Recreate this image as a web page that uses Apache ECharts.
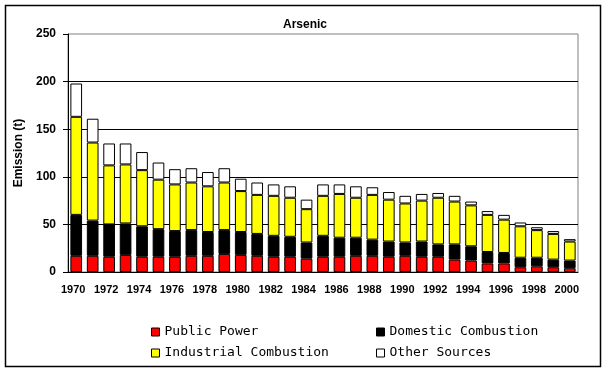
<!DOCTYPE html>
<html><head><meta charset="utf-8">
<script src="https://cdn.jsdelivr.net/npm/echarts@6/dist/echarts.min.js"></script>
<style>html,body{margin:0;padding:0;background:#fff}#c{width:606px;height:372px}</style>
</head><body><div id="c"></div>
<script>
const years = ['1970','1971','1972','1973','1974','1975','1976','1977','1978','1979','1980','1981','1982','1983','1984','1985','1986','1987','1988','1989','1990','1991','1992','1993','1994','1995','1996','1997','1998','1999','2000'];
const publicPower = [17,17,16,18,16,16,16,17,17,19,18,17,16,16,14,16,16,17,17,16,17,16,16,13,12,9,9,5,6,5,4];
const domestic    = [43,37,34,33,32,29,27,27,25,25,24,23,22,21,17,22,20,19,17,16,14,16,13,16,15,12,11,10,9,8,8];
const industrial  = [103,82,62,62,59,52,49,50,48,50,43,41,42,41,35,42,46,42,47,44,41,43,49,45,43,39,35,33,29,27,20];
const other       = [35,25,23,22,19,18,16,15,15,15,13,13,12,12,10,12,10,12,8,8,8,7,5,6,4,4,5,4,3,3,2.5];
const yTicks = [0,50,100,150,200,250];

const font = 'Arial, "Liberation Sans", sans-serif';
const narrow = '"Liberation Sans Narrow", "Arial Narrow", Arial, sans-serif';
const legendFont = '"DejaVu Sans Mono", monospace';
const chart = echarts.init(document.getElementById('c'), null, {renderer:'canvas'});
function s(name, data, color){
  return {name, type:'bar', stack:'t', data, barCategoryGap:'29%',
    itemStyle:{color, borderColor:'#000', borderWidth:1}, emphasis:{disabled:true}};
}
const legendBase = {orient:'vertical', top:320, itemGap:7, itemWidth:8, itemHeight:8,
  itemStyle:{borderColor:'#000', borderWidth:1}, icon:'rect', selectedMode:false,
  textStyle:{fontFamily:legendFont, fontSize:13, lineHeight:14, color:'#000'}};
chart.setOption({
  animation:false,
  backgroundColor:'#fff',
  title:{text:'Arsenic', left:300, top:14, textAlign:'center',
    textStyle:{fontFamily:narrow, fontSize:12, fontWeight:'bold', color:'#000'}},
  grid:{left:68, right:28, top:34, bottom:100, show:true, borderColor:'#808080', borderWidth:1, backgroundColor:'#fff'},
  xAxis:{type:'category', data:years,
    axisLine:{lineStyle:{color:'#000', width:1}},
    axisTick:{interval:0, length:4, lineStyle:{color:'#000'}},
    axisLabel:{interval:1, margin:12, padding:[0,6,0,0], color:'#000', fontFamily:narrow, fontSize:11, fontWeight:'bold'}},
  yAxis:{type:'value', min:yTicks[0], max:yTicks[yTicks.length-1], interval:50,
    name:'Emission (t)', nameLocation:'middle', nameGap:40, nameRotate:90,
    nameTextStyle:{fontFamily:font, fontSize:12, fontWeight:'bold', color:'#000'},
    axisLine:{show:true, lineStyle:{color:'#000', width:1}},
    axisTick:{show:true, length:5, lineStyle:{color:'#000'}},
    axisLabel:{margin:12, color:'#000', fontFamily:font, fontSize:12, fontWeight:'bold'},
    splitLine:{show:true, showMaxLine:false, lineStyle:{color:'#000', width:1}}},
  legend:[
    Object.assign({data:['Public Power','Industrial Combustion'], left:146}, legendBase),
    Object.assign({data:['Domestic Combustion','Other Sources'], left:371}, legendBase)
  ],
  graphic:[{type:'rect', shape:{x:5.5, y:5.5, width:595, height:361}, style:{fill:null, stroke:'#000', lineWidth:1.5}, silent:true}],
  series:[
    s('Public Power', publicPower, '#ff0000'),
    s('Domestic Combustion', domestic, '#000000'),
    s('Industrial Combustion', industrial, '#ffff00'),
    s('Other Sources', other, '#ffffff')
  ]
});
</script></body></html>
